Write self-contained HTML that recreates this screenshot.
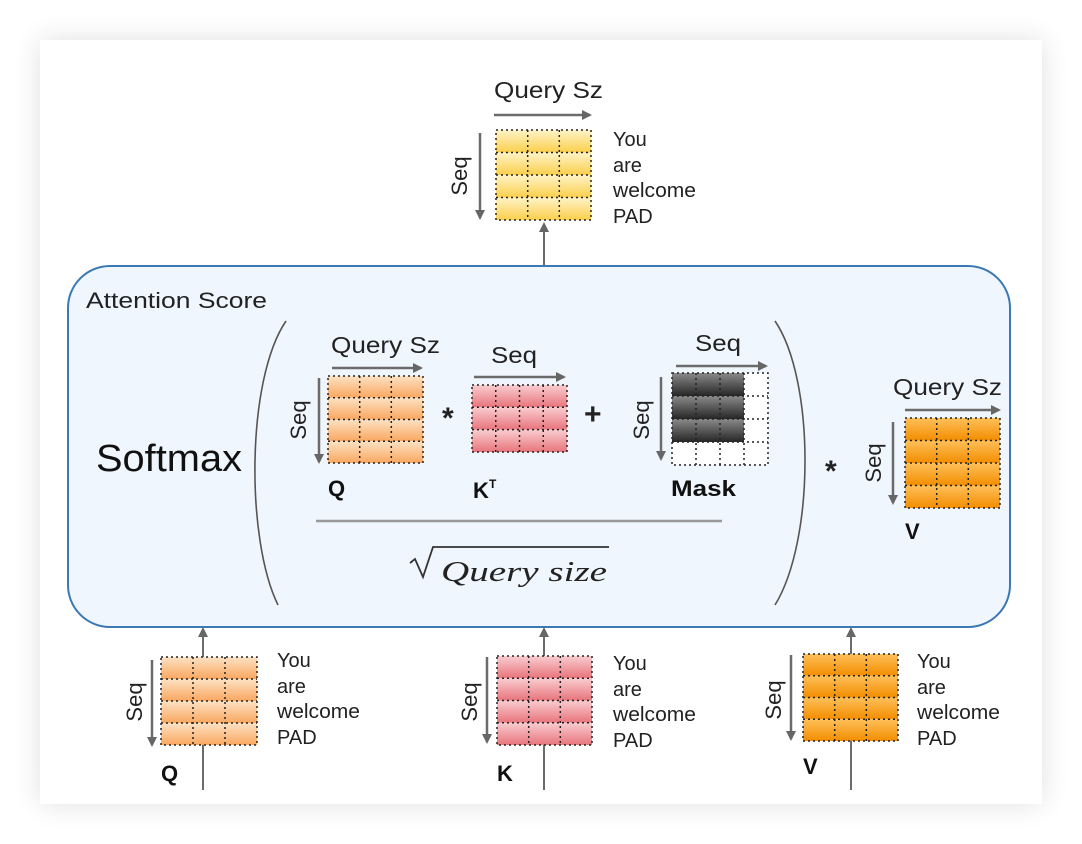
<!DOCTYPE html>
<html><head><meta charset="utf-8"><style>
html,body{margin:0;padding:0;background:#fff;}
svg{display:block;font-family:"Liberation Sans",Arial,sans-serif;}
</style></head><body>
<svg width="1082" height="844" viewBox="0 0 1082 844" xmlns="http://www.w3.org/2000/svg">
<defs>
<filter id="sh" x="-10%" y="-10%" width="120%" height="120%"><feGaussianBlur stdDeviation="14"/></filter>
<linearGradient id="gy" x1="0" y1="0" x2="0" y2="1"><stop offset="0" stop-color="#fff4c8"/><stop offset="1" stop-color="#fbcf4c"/></linearGradient>
<linearGradient id="go" x1="0" y1="0" x2="0" y2="1"><stop offset="0" stop-color="#fde2c4"/><stop offset="1" stop-color="#f9a760"/></linearGradient>
<linearGradient id="gp" x1="0" y1="0" x2="0" y2="1"><stop offset="0" stop-color="#f9cdd0"/><stop offset="1" stop-color="#e8747c"/></linearGradient>
<linearGradient id="gv" x1="0" y1="0" x2="0" y2="1"><stop offset="0" stop-color="#ffc05a"/><stop offset="1" stop-color="#f28d00"/></linearGradient>
<linearGradient id="gk" x1="0" y1="0" x2="0" y2="1"><stop offset="0" stop-color="#8a8a8a"/><stop offset="1" stop-color="#262626"/></linearGradient>
<marker id="ah" markerWidth="10" markerHeight="10" refX="8" refY="5" orient="auto" markerUnits="userSpaceOnUse"><path d="M0,0 L10,5 L0,10 z" fill="#666"/></marker>
</defs>
<rect x="40" y="40" width="1002" height="764" fill="#000" opacity="0.12" filter="url(#sh)"/>
<rect x="40" y="40" width="1002" height="764" fill="#fff"/>

<g stroke="#6b6b6b" stroke-width="2" fill="none">
<line x1="544" y1="266" x2="544" y2="224" marker-end="url(#ah)"/>
<line x1="203" y1="790" x2="203" y2="629" marker-end="url(#ah)"/>
<line x1="544" y1="790" x2="544" y2="629" marker-end="url(#ah)"/>
<line x1="851" y1="790" x2="851" y2="629" marker-end="url(#ah)"/>
</g>

<rect x="68" y="266" width="942" height="361" rx="42" fill="#f0f6fd" stroke="#3a79b3" stroke-width="2"/>
<text x="86" y="308" font-size="22" fill="#222" textLength="181" lengthAdjust="spacingAndGlyphs">Attention Score</text>
<text x="96" y="471" font-size="38" fill="#111" textLength="146" lengthAdjust="spacingAndGlyphs">Softmax</text>
<path d="M286,321 C246,380 246,540 278,605" stroke="#555" stroke-width="1.6" fill="none"/>
<path d="M775,321 C815,380 815,540 775,605" stroke="#555" stroke-width="1.6" fill="none"/>
<line x1="316" y1="521" x2="722" y2="521" stroke="#999" stroke-width="2.5"/>
<path d="M410,563 l5,-4 l8,18 l10,-30 h176" stroke="#333" stroke-width="1.8" fill="none"/>
<text x="441" y="581" font-size="29" font-style="italic" font-family="'Liberation Serif',serif" fill="#222" textLength="166" lengthAdjust="spacingAndGlyphs">Query size</text>
<text x="442" y="428" font-size="30" font-weight="bold" fill="#222">*</text>
<text x="584" y="424" font-size="30" font-weight="bold" fill="#222">+</text>
<text x="825" y="481" font-size="30" font-weight="bold" fill="#222">*</text>

<g>
<g fill="url(#gy)"><rect x="496" y="130" width="95" height="22.5"/><rect x="496" y="152.5" width="95" height="22.5"/><rect x="496" y="175" width="95" height="22.5"/><rect x="496" y="197.5" width="95" height="22.5"/></g>
<g stroke="#222" stroke-width="1.5" stroke-dasharray="2,3" fill="none"><rect x="496" y="130" width="95" height="90"/><path d="M496,152.5h95M496,175h95M496,197.5h95M527.7,130v90M559.3,130v90"/></g>

<g fill="url(#go)"><rect x="328" y="376" width="95" height="21.75"/><rect x="328" y="397.75" width="95" height="21.75"/><rect x="328" y="419.5" width="95" height="21.75"/><rect x="328" y="441.25" width="95" height="21.75"/></g>
<g stroke="#222" stroke-width="1.5" stroke-dasharray="2,3" fill="none"><rect x="328" y="376" width="95" height="87"/><path d="M328,397.75h95M328,419.5h95M328,441.25h95M359.7,376v87M391.3,376v87"/></g>

<g fill="url(#gp)"><rect x="472" y="385" width="95" height="22.3"/><rect x="472" y="407.3" width="95" height="22.3"/><rect x="472" y="429.6" width="95" height="22.4"/></g>
<g stroke="#222" stroke-width="1.5" stroke-dasharray="2,3" fill="none"><rect x="472" y="385" width="95" height="67"/><path d="M472,407.3h95M472,429.6h95M495.75,385v67M519.5,385v67M543.25,385v67"/></g>

<rect x="672" y="373" width="96" height="92" fill="#fff"/>
<g fill="url(#gk)"><rect x="672" y="373" width="72" height="23"/><rect x="672" y="396" width="72" height="23"/><rect x="672" y="419" width="72" height="23"/></g>
<g stroke="#222" stroke-width="1.5" stroke-dasharray="2,3" fill="none"><rect x="672" y="373" width="96" height="92"/><path d="M672,396h96M672,419h96M672,442h96M696,373v92M720,373v92M744,373v92"/></g>

<g fill="url(#gv)"><rect x="905" y="418" width="95" height="22.5"/><rect x="905" y="440.5" width="95" height="22.5"/><rect x="905" y="463" width="95" height="22.5"/><rect x="905" y="485.5" width="95" height="22.5"/></g>
<g stroke="#222" stroke-width="1.5" stroke-dasharray="2,3" fill="none"><rect x="905" y="418" width="95" height="90"/><path d="M905,440.5h95M905,463h95M905,485.5h95M936.7,418v90M968.3,418v90"/></g>

<g fill="url(#go)"><rect x="161" y="657" width="96" height="22"/><rect x="161" y="679" width="96" height="22"/><rect x="161" y="701" width="96" height="22"/><rect x="161" y="723" width="96" height="22"/></g>
<g stroke="#222" stroke-width="1.5" stroke-dasharray="2,3" fill="none"><rect x="161" y="657" width="96" height="88"/><path d="M161,679h96M161,701h96M161,723h96M193,657v88M225,657v88"/></g>

<g fill="url(#gp)"><rect x="497" y="656" width="95" height="22.25"/><rect x="497" y="678.25" width="95" height="22.25"/><rect x="497" y="700.5" width="95" height="22.25"/><rect x="497" y="722.75" width="95" height="22.25"/></g>
<g stroke="#222" stroke-width="1.5" stroke-dasharray="2,3" fill="none"><rect x="497" y="656" width="95" height="89"/><path d="M497,678.25h95M497,700.5h95M497,722.75h95M528.7,656v89M560.3,656v89"/></g>

<g fill="url(#gv)"><rect x="803" y="654" width="95" height="21.75"/><rect x="803" y="675.75" width="95" height="21.75"/><rect x="803" y="697.5" width="95" height="21.75"/><rect x="803" y="719.25" width="95" height="21.75"/></g>
<g stroke="#222" stroke-width="1.5" stroke-dasharray="2,3" fill="none"><rect x="803" y="654" width="95" height="87"/><path d="M803,675.75h95M803,697.5h95M803,719.25h95M834.7,654v87M866.3,654v87"/></g>
</g>

<g stroke="#6b6b6b" stroke-width="2.5" fill="none">
<line x1="494" y1="115" x2="590" y2="115" marker-end="url(#ah)"/>
<line x1="480" y1="133" x2="480" y2="218" marker-end="url(#ah)"/>
<line x1="332" y1="368" x2="421" y2="368" marker-end="url(#ah)"/>
<line x1="319" y1="378" x2="319" y2="462" marker-end="url(#ah)"/>
<line x1="474" y1="377" x2="564" y2="377" marker-end="url(#ah)"/>
<line x1="676" y1="366" x2="766" y2="366" marker-end="url(#ah)"/>
<line x1="661" y1="377" x2="661" y2="459" marker-end="url(#ah)"/>
<line x1="905" y1="410" x2="999" y2="410" marker-end="url(#ah)"/>
<line x1="893" y1="422" x2="893" y2="503" marker-end="url(#ah)"/>
<line x1="152" y1="660" x2="152" y2="745" marker-end="url(#ah)"/>
<line x1="487" y1="657" x2="487" y2="742" marker-end="url(#ah)"/>
<line x1="791" y1="655" x2="791" y2="739" marker-end="url(#ah)"/>
</g>

<g font-size="23" fill="#222">
<text x="494" y="98" textLength="109" lengthAdjust="spacingAndGlyphs">Query Sz</text>
<text x="331" y="353" textLength="109" lengthAdjust="spacingAndGlyphs">Query Sz</text>
<text x="491" y="363" textLength="46" lengthAdjust="spacingAndGlyphs">Seq</text>
<text x="695" y="351" textLength="46" lengthAdjust="spacingAndGlyphs">Seq</text>
<text x="893" y="395" textLength="109" lengthAdjust="spacingAndGlyphs">Query Sz</text>
</g>
<g font-size="22" fill="#222" text-anchor="middle">
<text transform="translate(467,176) rotate(-90)">Seq</text>
<text transform="translate(306,420) rotate(-90)">Seq</text>
<text transform="translate(649,420) rotate(-90)">Seq</text>
<text transform="translate(881,463) rotate(-90)">Seq</text>
<text transform="translate(142,702) rotate(-90)">Seq</text>
<text transform="translate(477,702) rotate(-90)">Seq</text>
<text transform="translate(781,700) rotate(-90)">Seq</text>
</g>

<g font-size="22" font-weight="bold" fill="#111">
<text x="328" y="496">Q</text>
<text x="473" y="498">K</text><text x="489" y="488" font-size="12">T</text>
<text x="671" y="496" textLength="65" lengthAdjust="spacingAndGlyphs">Mask</text>
<text x="905" y="539">V</text>
<text x="161" y="781">Q</text>
<text x="497" y="781">K</text>
<text x="803" y="774">V</text>
</g>

<g font-size="20" fill="#222">
<text x="613" y="146">You</text><text x="613" y="172">are</text><text x="613" y="197" textLength="83" lengthAdjust="spacingAndGlyphs">welcome</text><text x="613" y="223">PAD</text>
<text x="277" y="667">You</text><text x="277" y="693">are</text><text x="277" y="718" textLength="83" lengthAdjust="spacingAndGlyphs">welcome</text><text x="277" y="744">PAD</text>
<text x="613" y="670">You</text><text x="613" y="696">are</text><text x="613" y="721" textLength="83" lengthAdjust="spacingAndGlyphs">welcome</text><text x="613" y="747">PAD</text>
<text x="917" y="668">You</text><text x="917" y="694">are</text><text x="917" y="719" textLength="83" lengthAdjust="spacingAndGlyphs">welcome</text><text x="917" y="745">PAD</text>
</g>
</svg>
</body></html>
